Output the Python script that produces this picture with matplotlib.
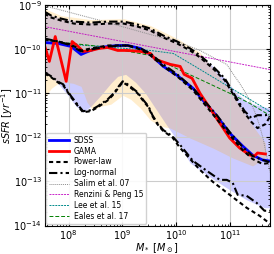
import matplotlib
matplotlib.use("Agg")
import matplotlib.pyplot as plt
import numpy as np

# all values are log10(M*/Msun) and log10(sSFR/yr^-1)

# SDSS / GAMA medians
sdss_logm = [7.551, 7.808, 8.048, 8.232, 8.361, 8.508, 8.729, 8.913, 9.098, 9.337, 9.521,
             9.761, 10.018, 10.129, 10.313, 10.497, 10.755, 10.994, 11.234, 11.418, 11.602, 11.731]
sdss_logs = [-9.849, -9.871, -9.939, -10.120, -10.052, -9.984, -9.939, -9.916, -9.916, -9.984, -10.120,
             -10.391, -10.594, -10.707, -10.887, -11.158, -11.519, -11.903, -12.196, -12.400, -12.512, -12.535]

gama_logm = [7.532, 7.643, 7.753, 7.956, 8.066, 8.177, 8.269, 8.416, 8.564, 8.729, 8.913, 9.098,
             9.337, 9.521, 9.613, 9.890, 10.074, 10.147, 10.295, 10.442, 10.589, 10.810, 10.994,
             11.179, 11.363, 11.455, 11.510, 11.657]
gama_logs = [-9.826, -10.278, -9.713, -10.729, -9.826, -9.939, -10.052, -10.029, -9.984, -9.962, -10.029, -10.029,
             -10.052, -10.097, -10.233, -10.345, -10.391, -10.571, -10.661, -11.0, -11.271, -11.677, -12.016,
             -12.242, -12.400, -12.422, -12.354, -12.377]

# SDSS / GAMA spread (shaded)
sdss_hi_logm = [7.551, 7.864, 8.416, 9.024, 9.521, 10.018, 10.442, 10.681, 10.902, 11.123, 11.308, 11.492, 11.749]
sdss_band_hi = [-9.172, -9.307, -9.397, -9.375, -9.533, -9.826, -10.142, -10.391, -10.661, -11.0, -11.181, -11.271, -11.339]
sdss_lo_logm = [7.551, 7.772, 7.956, 8.140, 8.269, 8.416, 8.600, 8.785, 8.913, 9.061, 9.245, 9.429, 9.613,
                9.797, 9.926, 10.074, 10.258, 10.442, 10.681, 10.994, 11.308, 11.639, 11.749]
sdss_band_lo = [-10.503, -10.729, -11.0, -11.293, -11.429, -11.293, -11.045, -10.774, -10.616, -10.571, -10.752, -11.0, -11.339,
                -11.677, -11.903, -12.196, -12.580, -12.738, -12.941, -13.190, -13.416, -13.596, -13.596]

gama_hi_logm = [7.551, 7.864, 8.416, 9.024, 9.521, 10.018, 10.442, 10.681, 10.939, 11.123, 11.308, 11.492, 11.657]
gama_band_hi = [-9.081, -9.239, -9.330, -9.307, -9.465, -9.758, -10.074, -10.436, -10.842, -11.181, -11.519, -11.858, -12.129]
gama_lo_logm = [7.551, 7.680, 7.808, 7.956, 8.085, 8.232, 8.343, 8.453, 8.600, 8.785, 9.006, 9.153, 9.337,
                9.521, 9.705, 9.890, 10.258, 10.681, 11.050, 11.418, 11.657]
gama_band_lo = [-11.113, -10.887, -10.774, -10.752, -10.774, -10.842, -11.203, -11.384, -11.293, -11.248, -11.045, -11.135, -11.339,
                -11.609, -11.745, -11.790, -12.016, -12.242, -12.467, -12.648, -12.467]

# model curves: median, upper and lower
med_logm = [7.551, 7.808, 8.048, 8.232, 8.416, 8.729, 9.098, 9.337, 9.521, 9.761, 10.018,
            10.313, 10.497, 10.755, 10.994, 11.234, 11.418, 11.602, 11.731]
lognorm_med = [-9.758, -9.826, -9.916, -10.052, -10.007, -9.939, -9.916, -9.984, -10.097, -10.345, -10.571,
               -10.887, -11.135, -11.497, -11.880, -12.219, -12.422, -12.512, -12.558]
powlaw_med = [-9.781, -9.826, -9.894, -10.029, -9.984, -9.916, -9.916, -10.007, -10.142, -10.391, -10.616,
              -10.932, -11.203, -11.587, -11.948, -12.287, -12.490, -12.603, -12.580]

hi_logm = [7.551, 7.680, 7.864, 8.103, 8.416, 8.729, 9.024, 9.282, 9.521, 9.761, 10.018, 10.258,
           10.442, 10.681, 10.902, 11.123, 11.271, 11.400, 11.510, 11.657, 11.749]
lognorm_hi = [-9.149, -9.239, -9.307, -9.375, -9.397, -9.375, -9.375, -9.442, -9.533, -9.691, -9.826, -9.984,
              -10.142, -10.391, -10.661, -11.113, -11.406, -11.564, -11.497, -11.497, -11.474]
powlaw_hi = [-9.194, -9.284, -9.352, -9.420, -9.442, -9.420, -9.420, -9.488, -9.578, -9.736, -9.871, -10.029,
             -10.187, -10.436, -10.706, -11.158, -11.451, -11.655, -11.790, -11.700, -11.519]

lo_logm = [7.551, 7.680, 7.827, 7.901, 8.048, 8.177, 8.269, 8.416, 8.545, 8.729, 8.840, 8.932, 9.006,
           9.098, 9.282, 9.392, 9.484, 9.558, 9.650, 9.761, 9.926, 10.074, 10.313, 10.571, 10.810,
           10.939, 11.050, 11.142, 11.308, 11.492, 11.639, 11.749]
lognorm_lo = [-10.526, -10.616, -10.752, -10.797, -11.068, -11.271, -11.406, -11.384, -11.293, -11.135, -11.0, -10.842, -10.729,
              -10.797, -10.977, -11.158, -11.293, -11.497, -11.677, -11.835, -11.971, -12.174, -12.535, -12.761, -12.964,
              -12.964, -13.032, -13.303, -13.325, -13.483, -13.664, -13.664]
pl_lo_logm = [7.551, 7.680, 7.827, 7.901, 8.048, 8.177, 8.269, 8.416, 8.545, 8.729, 8.840, 8.932, 9.006,
              9.098, 9.282, 9.392, 9.484, 9.558, 9.650, 9.761, 9.926, 10.074, 10.258, 10.442, 10.681,
              10.994, 11.308, 11.547, 11.694, 11.768]
powlaw_lo = [-10.55, -10.64, -10.775, -10.82, -11.09, -11.295, -11.43, -11.405, -11.315, -11.16, -11.02, -10.865, -10.75,
             -10.82, -11.0, -11.18, -11.315, -11.52, -11.70, -11.86, -11.995, -12.242, -12.490, -12.738, -13.009,
             -13.303, -13.596, -13.777, -13.912, -13.980]

# literature relations
salim_logm = [7.551, 8.600, 9.521, 10.074, 10.442, 10.718, 10.939, 11.087, 11.179, 11.271, 11.363,
              11.455, 11.547, 11.621, 11.694, 11.749]
salim_logs = [-9.014, -9.352, -9.668, -9.849, -10.029, -10.210, -10.345, -10.616, -10.774, -10.955, -11.158,
              -11.406, -11.722, -12.061, -12.512, -12.806]
renzini_logm = [7.5, 11.8]
renzini_logs = [-9.476, -10.476]
lee_logm = [7.551, 8.600, 9.521, 9.945, 10.442, 10.994, 11.363, 11.731]
lee_logs = [-9.849, -9.939, -10.029, -10.097, -10.458, -10.865, -11.135, -11.406]
eales_logm = [7.551, 8.600, 9.521, 10.0, 10.442, 10.994, 11.363, 11.731]
eales_logs = [-9.804, -9.939, -10.142, -10.436, -10.684, -11.0, -11.226, -11.497]

LN_STYLE = (0, (4, 1.5, 1, 1.5))
PL_STYLE = (0, (2, 1.5))


def p(a):
    return np.power(10.0, a)


def band(ax, xhi, yhi, xlo, ylo, color):
    # edges were read at different masses, put them on one grid
    x = np.union1d(xhi, xlo)
    ax.fill_between(p(x), p(np.interp(x, xhi, yhi)), p(np.interp(x, xlo, ylo)),
                    color=color, alpha=0.2, lw=0)


fig = plt.figure(figsize=(2.74, 2.54), dpi=100)
ax = fig.add_axes([0.163, 0.112, 0.822, 0.868])

band(ax, sdss_hi_logm, sdss_band_hi, sdss_lo_logm, sdss_band_lo, "blue")
band(ax, gama_hi_logm, gama_band_hi, gama_lo_logm, gama_band_lo, "orange")

ax.plot(p(salim_logm), p(salim_logs), ls=(0, (1, 1)), color="0.55", lw=0.7, label="Salim et al. 07")
ax.plot(p(renzini_logm), p(renzini_logs), ls=(0, (2, 1)), color="m", lw=0.7, alpha=0.85,
        label="Renzini & Peng 15")
ax.plot(p(lee_logm), p(lee_logs), ls=(0, (2, 1)), color="darkcyan", lw=0.7, label="Lee et al. 15")
ax.plot(p(eales_logm), p(eales_logs), ls=(0, (4, 2)), color="green", lw=0.7, label="Eales et al. 17")

ax.plot(p(sdss_logm), p(sdss_logs), color="blue", lw=2, label="SDSS")
ax.plot(p(gama_logm), p(gama_logs), color="red", lw=2, label="GAMA")

ax.plot(p(med_logm), p(powlaw_med), ls=PL_STYLE, color="k", lw=1.5, label="Power-law")
ax.plot(p(hi_logm), p(powlaw_hi), ls=PL_STYLE, color="k", lw=1.5)
ax.plot(p(pl_lo_logm), p(powlaw_lo), ls=PL_STYLE, color="k", lw=1.5)
ax.plot(p(med_logm), p(lognorm_med), ls=LN_STYLE, color="k", lw=1.5, label="Log-normal")
ax.plot(p(hi_logm), p(lognorm_hi), ls=LN_STYLE, color="k", lw=1.5)
ax.plot(p(lo_logm), p(lognorm_lo), ls=LN_STYLE, color="k", lw=1.5)

ax.set_xscale("log")
ax.set_yscale("log")
ax.set_xlim(3.6e7, 5.5e11)
ax.set_ylim(1e-14, 1e-9)
ax.set_xlabel(r"$M_*\ [M_\odot]$", fontsize=7, labelpad=-1)
ax.set_ylabel(r"$sSFR\ [yr^{-1}]$", fontsize=7, labelpad=-1)
ax.tick_params(which="both", direction="in", top=True, right=True, labelsize=7, pad=2)
ax.tick_params(which="major", length=3)
ax.tick_params(which="minor", length=1.5)
ax.grid(True, which="major", color="0.8", lw=0.8)

handles, labels = ax.get_legend_handles_labels()
order = ["SDSS", "GAMA", "Power-law", "Log-normal", "Salim et al. 07",
         "Renzini & Peng 15", "Lee et al. 15", "Eales et al. 17"]
hmap = dict(zip(labels, handles))
ax.legend([hmap[k] for k in order], order, loc="lower left", fontsize=5.5,
          handlelength=2.6, handletextpad=0.6, labelspacing=0.25, borderaxespad=0.2,
          borderpad=0.4, framealpha=0.9)

fig.savefig("out.png", dpi=100)
